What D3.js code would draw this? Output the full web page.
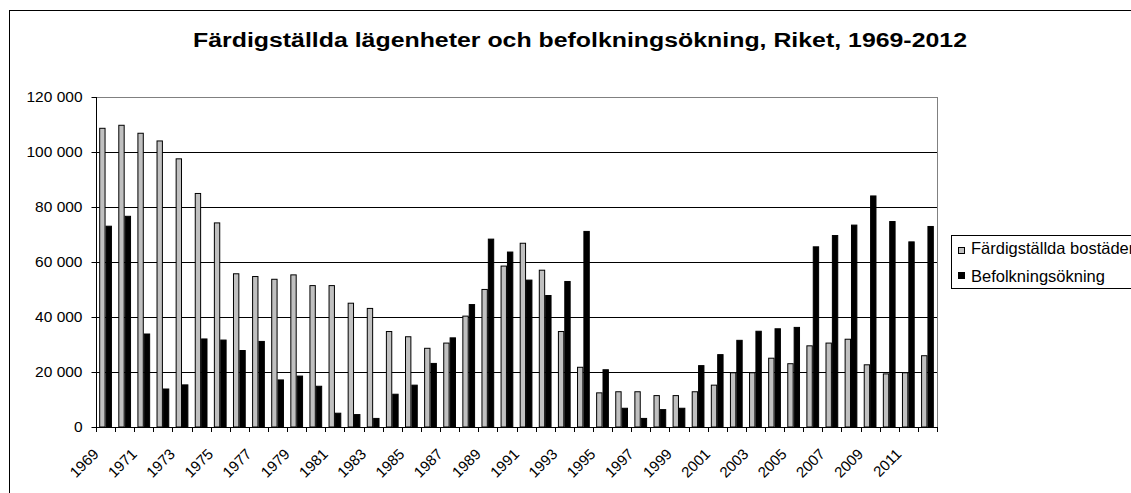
<!DOCTYPE html>
<html><head><meta charset="utf-8">
<script src="https://cdn.jsdelivr.net/npm/d3@7"></script>
<style>
body{margin:0;background:#fff}
svg{display:block}
text{font-family:"Liberation Sans",Arial,sans-serif;fill:#000}
</style>
</head><body>
<svg id="c" width="1131" height="493"></svg>
<script>
const title = "Färdigställda lägenheter och befolkningsökning, Riket, 1969-2012";
const seriesNames = ["Färdigställda bostäder", "Befolkningsökning"];
const years = [1969,1970,1971,1972,1973,1974,1975,1976,1977,1978,1979,1980,1981,1982,1983,1984,1985,1986,1987,1988,1989,1990,1991,1992,1993,1994,1995,1996,1997,1998,1999,2000,2001,2002,2003,2004,2005,2006,2007,2008,2009,2010,2011,2012];
const completed = [108800,109900,107000,104200,97700,85100,74400,55900,54900,53900,55500,51600,51600,45200,43300,34900,33000,28800,30700,40500,50200,58700,67000,57200,34900,21900,12600,13000,13000,11600,11600,13000,15400,19900,19900,25200,23200,29700,30700,32100,22800,19500,19900,26100];
const growth = [73200,76800,34000,14000,15500,32200,31800,28000,31300,17300,18700,15000,5200,4700,3300,12100,15400,23300,32600,44700,68500,63800,53600,48000,53100,71300,21000,7000,3300,6500,7000,22500,26500,31700,35000,35900,36400,65700,69800,73600,84200,74900,67500,73100];
const yTicks = [0,20000,40000,60000,80000,100000,120000];
const xLabels = years.filter((d,i) => i % 2 === 0);
const colors = ["#c0c0c0", "#000000"];

const svg = d3.select("#c");
const P = {left:96, right:937, top:97, bottom:427};

// outer chart frame
svg.append("rect").attr("x",9.5).attr("y",10.5).attr("width",1300).attr("height",600)
  .attr("fill","#fff").attr("stroke","#000").attr("stroke-width",1);

// title
svg.append("text").attr("x",193).attr("y",47)
  .attr("font-size",20).attr("font-weight","bold")
  .attr("textLength",774).attr("lengthAdjust","spacingAndGlyphs").text(title);

const x = d3.scaleBand().domain(years).range([P.left,P.right]).paddingInner(1/3).paddingOuter(1/6);
const x1 = d3.scaleBand().domain([0,1]).range([0,x.bandwidth()]);
const y = d3.scaleLinear().domain([0,120000]).range([P.bottom,P.top]);

// gridlines
svg.append("g").selectAll("line").data(yTicks.filter(d => d>0 && d<120000)).join("line")
  .attr("x1",P.left).attr("x2",P.right)
  .attr("y1",d=>Math.round(y(d))+0.5).attr("y2",d=>Math.round(y(d))+0.5)
  .attr("stroke","#000").attr("stroke-width",1);

// plot area border (gray)
svg.append("rect").attr("x",P.left+0.5).attr("y",P.top+0.5)
  .attr("width",P.right-P.left).attr("height",P.bottom-P.top)
  .attr("fill","none").attr("stroke","#808080");

// bars
const series = [completed, growth];
series.forEach((vals, s) => {
  svg.append("g").selectAll("rect").data(years).join("rect")
    .attr("x", (d) => x(d) + x1(s) + 0.5)
    .attr("width", x1.bandwidth() - 1)
    .attr("y", (d,i) => y(vals[i]) + 0.5)
    .attr("height", (d,i) => Math.max(0, y(0) - y(vals[i]) - 0.5))
    .attr("fill", colors[s]).attr("stroke","#000").attr("stroke-width",1);
});

// y axis
const yAxis = d3.axisLeft(y).tickValues(yTicks).tickSize(5).tickPadding(9)
  .tickFormat(d => d3.format(",")(d).replace(/,/g, " "));
const gy = svg.append("g").attr("transform",`translate(${P.left+0.5},0)`).call(yAxis);
gy.selectAll("text").attr("font-size",15.5).attr("font-family",null);
gy.selectAll("path,line").attr("stroke","#000");
gy.select(".domain").attr("d",`M0,${P.top}V${P.bottom+0.5}`);

// x axis
const gx = svg.append("g");
gx.append("line").attr("x1",P.left).attr("x2",P.right+1).attr("y1",P.bottom+0.5).attr("y2",P.bottom+0.5).attr("stroke","#000");
const step = x.step();
gx.selectAll("line.tk").data(d3.range(years.length+1)).join("line").attr("class","tk")
  .attr("x1",i => Math.round(P.left + i*step)+0.5).attr("x2",i => Math.round(P.left + i*step)+0.5)
  .attr("y1",P.bottom).attr("y2",P.bottom+5).attr("stroke","#000");
gx.selectAll("text").data(xLabels).join("text")
  .attr("transform", d => `translate(${x(d) + x.bandwidth()/2 - 6},455) rotate(-45)`)
  .attr("text-anchor","end").attr("font-size",15).text(d => d);

// legend
const lg = svg.append("g");
lg.append("rect").attr("x",951.5).attr("y",235.5).attr("width",300).attr("height",53)
  .attr("fill","#fff").attr("stroke","#000");
seriesNames.forEach((n,i) => {
  lg.append("rect").attr("x",958.5).attr("y",[247.5,272.5][i]).attr("width",6).attr("height",6)
    .attr("fill",colors[i]).attr("stroke","#000");
  lg.append("text").attr("x",971).attr("y",[253.5,281.5][i]).attr("font-size",16.5).text(n);
});
</script>
</body></html>
